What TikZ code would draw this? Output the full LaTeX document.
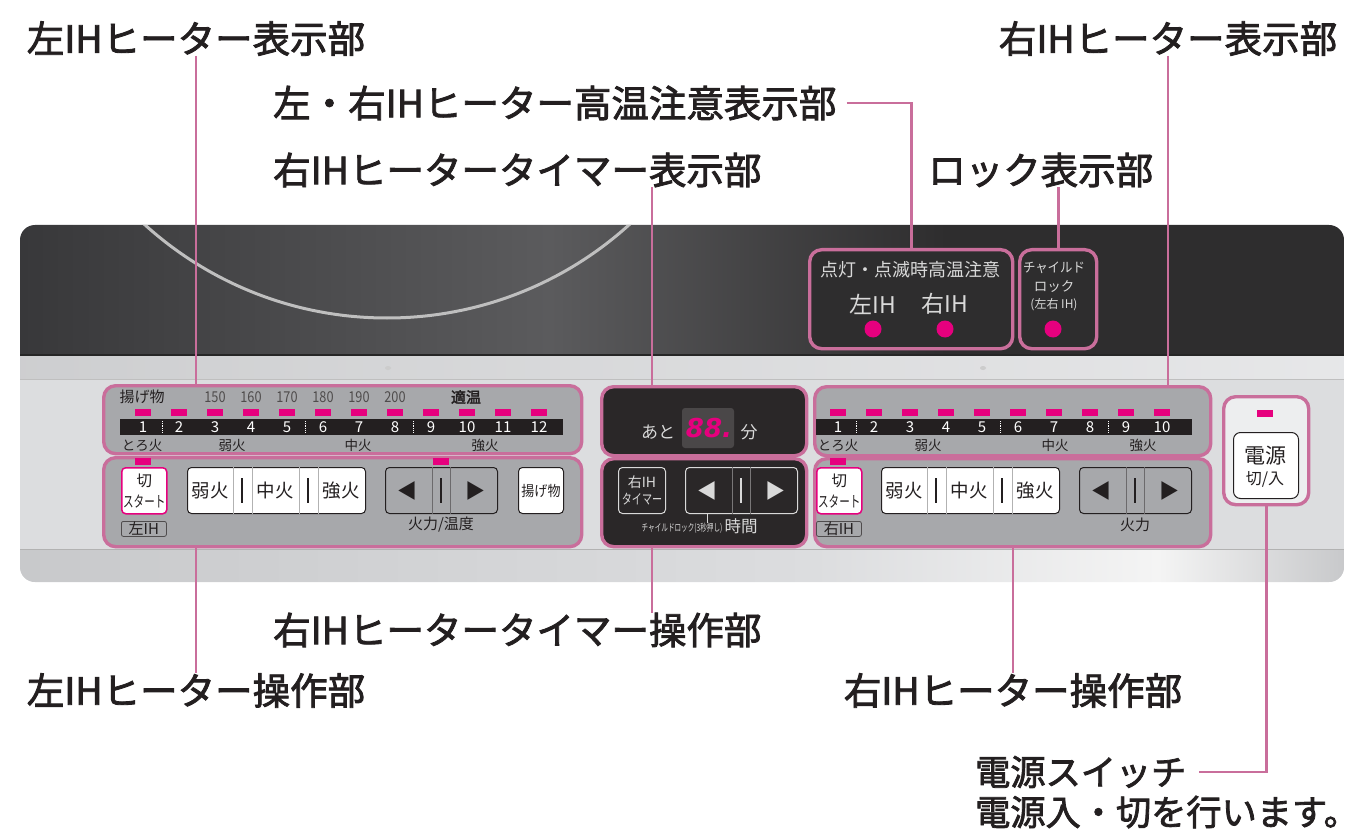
\documentclass[tikz,border=0pt]{standalone}
\usepackage{fontspec}
\usetikzlibrary{positioning,calc}
\newfontfamily\jp{Noto Sans CJK JP}
\newfontfamily\jpm{Noto Sans CJK JP}[FakeBold=2.2]
\newfontfamily\segfont{DejaVu Sans}
\newcommand\fs[1]{\jp\fontsize{#1}{#1}\selectfont}
\definecolor{ink}{HTML}{231F20}
\definecolor{callpink}{HTML}{C96E9B}
\definecolor{ledpink}{HTML}{E6007E}
\definecolor{panelgray}{HTML}{A7A8AB}
\definecolor{bodygray}{HTML}{DCDDDF}
\definecolor{darkpanel}{HTML}{2A2728}
\definecolor{softtext}{HTML}{D9D9D9}
\definecolor{topA}{HTML}{38383A}
\definecolor{topB}{HTML}{5B5B5D}
\definecolor{topC}{HTML}{2E2D2E}
\definecolor{botA}{HTML}{C8C9CB}
\definecolor{botB}{HTML}{F4F4F4}
\pgfdeclarehorizontalshading{hobtop}{100bp}{color(0bp)=(topA); color(25bp)=(topA); color(45bp)=(topB); color(60bp)=(topC); color(100bp)=(topC)}
\pgfdeclarehorizontalshading{hobbot}{100bp}{color(0bp)=(botA); color(25bp)=(botA); color(55bp)=(bodygray); color(68bp)=(botB); color(75bp)=(botA); color(100bp)=(botA)}

\begin{document}
\begin{tikzpicture}[x=1pt, y=-1pt,
    every node/.style={inner sep=0, text=ink},
    lbl/.style={font=\jpm\fontsize{37.5}{37.5}\selectfont},
    callout/.style={draw=callpink, line width=2.6},
    panel/.style={draw=callpink, line width=3.4, rounded corners=12, fill=panelgray, anchor=north west},
    led/.style={fill=ledpink, minimum width=16, minimum height=7},
    key/.style={draw=ink, line width=1, fill=white, rounded corners=4, minimum height=46, anchor=north west},
    lvl/.style={font=\fs{13.5}}]
  \useasboundingbox (0,0) rectangle (1364,834);

  \begin{scope}
    \clip[rounded corners=15] (20,225) rectangle (1344,582);
    \fill[bodygray] (20,225) rectangle (1344,582);
    \shade[shading=hobtop] (20,225) rectangle (1344,356);
    \draw[white!75!black, line width=3] (387,-43) circle[radius=361pt];
    \draw[black!85, line width=2] (20,355) -- (1344,355);
    \shade[left color=botA!90!white, right color=bodygray!70!white] (20,356) rectangle (1344,379);
    \draw[black!25, line width=1] (20,379) -- (1344,379);
    \shade[shading=hobbot] (20,549) rectangle (1344,582);
    \draw[black!30, line width=1] (20,549) -- (1344,549);
  \end{scope}
  \fill[white!80!black] (388,368) ellipse[x radius=3pt, y radius=2pt];
  \fill[white!80!black] (983,368) ellipse[x radius=3pt, y radius=2pt];

  \node[panel, fill=topC, minimum width=203, minimum height=99] (hot) at (808,248) {};
  \node[panel, fill=topC, minimum width=77, minimum height=99] (lock) at (1018,248) {};
  \node[panel, minimum width=478, minimum height=68] (ldisp) at (102,384) {};
  \node[panel, minimum width=478, minimum height=89] (lctrl) at (102,456) {};
  \node[panel, fill=darkpanel, minimum width=205, minimum height=69] (tdisp) at (600,385) {};
  \node[panel, fill=darkpanel, minimum width=205, minimum height=88] (tctrl) at (600,457) {};
  \node[panel, minimum width=396, minimum height=69] (rdisp) at (813,385) {};
  \node[panel, minimum width=396, minimum height=88] (rctrl) at (813,457) {};
  \node[panel, fill=bodygray!50!white, minimum width=85, minimum height=108] (pwr) at (1222,395) {};

  \node[font=\fs{18}, text=softtext] (hotcap) at (910,270) {点灯・点滅時高温注意};
  \node[font=\fs{23}, text=softtext] (hotl) at (873,304) {左IH};
  \node[font=\fs{23}, text=softtext] (hotr) at (945,304) {右IH};
  \node[circle, fill=ledpink, minimum size=17] (hotldot) at (873,329) {};
  \node[circle, fill=ledpink, minimum size=17] (hotrdot) at (945,329) {};
  \node[font=\fs{13.5}, text=softtext] (lockA) at (1054,268) {\scalebox{0.92}[1]{チャイルド}};
  \node[font=\fs{13.5}, text=softtext] (lockB) at (1054,287) {ロック};
  \node[font=\fs{12}, text=softtext] (lockC) at (1054,305) {(左右 IH)};
  \node[circle, fill=ledpink, minimum size=17] (lockdot) at (1053,329) {};

  \node[fill=ink, minimum width=443, minimum height=16, anchor=north west] (lbar) at (120,419) {};
  \node[fill=ink, minimum width=376, minimum height=16, anchor=north west] (rbar) at (816,419) {};
  \foreach \n in {1,...,12} {
    \node[led] (lled\n) at ({143+36*(\n-1)},412) {};
    \node[font=\fs{15}, text=white] (lnum\n) at ({143+36*(\n-1)},427.5) {\n};
  }
  \foreach \n in {1,...,10} {
    \node[led] (rled\n) at ({838+36*(\n-1)},412) {};
    \node[font=\fs{15}, text=white] (rnum\n) at ({838+36*(\n-1)},427.5) {\n};
  }
  \foreach \x in {162,305,413,856,1000,1108}
    \draw[white, densely dotted, line width=0.8] (\x,421) -- (\x,433);
  \node[font=\fs{15}] (lfry) at (142,397) {揚げ物};
  \foreach \t [count=\i from 3] in {150,160,...,200}
    \node[font=\fs{15}, text=ink!80] (ltmp\i) at ({143+36*(\i-1)},397) {\scalebox{0.85}[1]{\t}};
  \node[font=\jpm\fontsize{15}{15}\selectfont] (lopt) at (466,397) {適温};
  \foreach \t/\x [count=\i] in {とろ火/142,弱火/232,中火/358,強火/485}
    \node[lvl] (llv\i) at (\x,445) {\t};
  \foreach \t/\x [count=\i] in {とろ火/838,弱火/928,中火/1055,強火/1143}
    \node[lvl] (rlv\i) at (\x,445) {\t};

  \node[led] (lled0) at (143,461) {};
  \node[led] (lled13) at (441,461) {};
  \node[led] (rled0) at (838,461) {};
  \foreach \s/\x/\t in {l/121/左IH, r/816/右IH} {
    \node[key, draw=ledpink, line width=1.5, minimum width=45, align=center,
      font=\jp\fontsize{15.5}{21}\selectfont] (\s-cut) at (\x,467) {切\\\scalebox{0.68}[1]{スタート}};
    \node[draw=ink!80, line width=0.8, rounded corners=2, minimum width=45, minimum height=15,
      anchor=north west, font=\fs{15}] (\s-side) at (\x,521) {\t};
  }
  \foreach \s/\x in {l/187, r/881} {
    \node[key, minimum width=178] (\s-fire) at (\x,467) {};
    \foreach \d in {46,65,112,131}
      \draw[black!30, line width=0.6] ([xshift=\d]\s-fire.north west) -- ([xshift=\d]\s-fire.south west);
    \foreach \d in {55,121}
      \draw[ink, line width=1.8] ([xshift=\d, yshift=-11]\s-fire.north west) -- ([xshift=\d, yshift=11]\s-fire.south west);
    \node[font=\fs{18.5}] (\s-weak) at ([xshift=23]\s-fire.west) {弱火};
    \node[font=\fs{18.5}] (\s-mid) at ([xshift=88]\s-fire.west) {中火};
    \node[font=\fs{18.5}] (\s-high) at ([xshift=154]\s-fire.west) {強火};
  }
  \foreach \s/\x/\fg/\bg in {l/385/ink/panelgray, r/1079/ink/panelgray, t/685/softtext/darkpanel} {
    \node[key, draw=\fg, fill=\bg, minimum width=112] (\s-arr) at (\x,467) {};
    \foreach \d in {47,65}
      \draw[\fg!45!\bg, line width=0.6] ([xshift=\d]\s-arr.north west) -- ([xshift=\d]\s-arr.south west);
    \draw[\fg, line width=1.8] ([xshift=56, yshift=-11]\s-arr.north west) -- ([xshift=56, yshift=11]\s-arr.south west);
    \node[font=\fs{20}, text=\fg] (\s-down) at ([xshift=22]\s-arr.west) {◀};
    \node[font=\fs{20}, text=\fg] (\s-up) at ([xshift=90]\s-arr.west) {▶};
  }
  \node[key, minimum width=45, font=\fs{14.5}] (lfrykey) at (518,467) {\scalebox{0.9}[1]{揚げ物}};
  \node[font=\fs{15}] (lpow) at (441,525) {火力/温度};
  \node[font=\fs{15}] (rpow) at (1135,525) {火力};

  \node[fill=darkpanel!85!white, minimum width=52, minimum height=40, rounded corners=3] (segbox) at (708,428) {};
  \node[font=\segfont\bfseries\itshape\fontsize{26}{26}\selectfont, text=ledpink] (segnum) at (709,428) {88.};
  \node[font=\fs{17}, text=softtext] (ato) at (658,432) {あと};
  \node[font=\fs{17}, text=softtext] (fun) at (749,432) {分};
  \node[key, draw=softtext, fill=darkpanel, minimum width=47, align=center, text=softtext,
    font=\jp\fontsize{14}{17}\selectfont] (tkey) at (618,467) {右IH\\\scalebox{0.72}[1]{タイマー}};
  \draw[softtext, line width=0.8] ([xshift=22]t-arr.south west) -- ++(0,9);
  \node[font=\fs{10}, text=softtext] (tlock) at (682,528) {\scalebox{0.66}[1]{チャイルドロック(3秒押し)}};
  \node[font=\fs{16.5}, text=softtext] (tcap) at (741,526) {時間};

  \node[led] (pwrled) at (1265,413) {};
  \node[key, minimum width=65, minimum height=66, rounded corners=7] (pkey) at (1233,432) {};
  \node[font=\fs{21}] (pkeyA) at (1265,456) {電源};
  \node[font=\fs{16}] (pkeyB) at (1265,479) {切/入};

  \node[lbl, anchor=south] (ldlbl) at (196,56) {左IHヒーター表示部};
  \node[lbl, anchor=south] (rdlbl) at (1168,56) {右IHヒーター表示部};
  \node[lbl, anchor=west] (hilbl) at (273,103) {左・右IHヒーター高温注意表示部};
  \node[lbl, anchor=west] (tdlbl) at (273,170) {右IHヒータータイマー表示部};
  \node[lbl, anchor=west] (locklbl) at (928,170) {ロック表示部};
  \node[lbl, anchor=west] (tclbl) at (273,630) {右IHヒータータイマー操作部};
  \node[lbl, anchor=north] (lclbl) at (196,673) {左IHヒーター操作部};
  \node[lbl, anchor=north] (rclbl) at (1013,673) {右IHヒーター操作部};
  \node[lbl, font=\jpm\fontsize{35.2}{35.2}\selectfont, anchor=west] (swlbl) at (975,772) {電源スイッチ};
  \node[lbl, font=\jpm\fontsize{35.2}{35.2}\selectfont, anchor=west] (swdesc) at (975,812) {電源入・切を行います。};
  \coordinate (tdpt) at (652,385);
  \coordinate (tcpt) at (652,545);

  \draw[callout] (ldlbl.south) -- (ldlbl.south |- ldisp.north);
  \draw[callout] (rdlbl.south) -- (rdlbl.south |- rdisp.north);
  \draw[callout] ([xshift=10]hilbl.east) -| (hot.north);
  \draw[callout] (tdlbl.south -| tdpt) -- (tdpt);
  \draw[callout] (locklbl.south -| lock.north) -- (lock.north);
  \draw[callout] (tcpt) -- (tcpt |- tclbl.north);
  \draw[callout] (lclbl.north |- lctrl.south) -- (lclbl.north);
  \draw[callout] (rclbl.north |- rctrl.south) -- (rclbl.north);
  \draw[callout] (pwr.south) |- ([xshift=12]swlbl.east);
\end{tikzpicture}
\end{document}
